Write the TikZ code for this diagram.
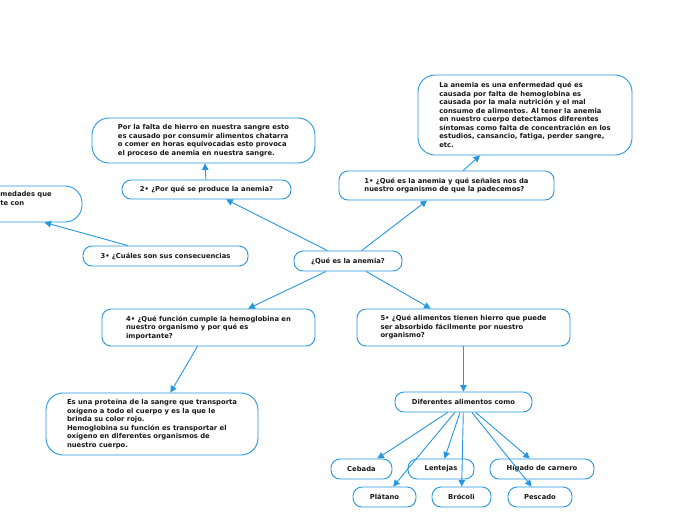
\documentclass[tikz,border=0pt]{standalone}
\usepackage{fontspec}
\setmainfont{DejaVu Sans}
\usetikzlibrary{arrows.meta}
\definecolor{mapblue}{RGB}{38, 150, 222}
\definecolor{ink}{RGB}{25, 25, 25}
\tikzset{%
    topic/.style={%
        draw=mapblue, line width=0.9pt, rounded corners=9pt, fill=white,
        text=ink, align=left, inner sep=0pt,
        font=\fontsize{6.8}{8.5}\selectfont\bfseries
    },
    bigtopic/.style={topic, rounded corners=17pt},
    link/.style={%
        draw=mapblue, line width=0.9pt,
        -{Triangle[length=6.5pt, width=6.5pt]}
    }
}

\begin{document}
\begin{tikzpicture}[x=1pt, y=-1pt]

    \useasboundingbox (0, 0) rectangle (696, 520);

    % Main topic
    \node[topic, minimum width=108, minimum height=20] (anemia) at (348, 261)
        {¿Qué es la anemia?};

    % Questions
    \node[topic, minimum width=169, minimum height=19] (why) at (206.5, 189.5)
        {2• ¿Por qué se produce la anemia?};
    \node[topic, minimum width=215, minimum height=29] (what) at (446.5, 185.5)
        {1• ¿Qué es la anemia y qué señales nos da\\
         nuestro organismo de que la padecemos?};
    \node[topic, minimum width=165, minimum height=20] (effects) at (165.5, 256)
        {3• ¿Cuáles son sus consecuencias};
    \node[topic, minimum width=213, minimum height=37] (role) at (208.5, 327.5)
        {4• ¿Qué función cumple la hemoglobina en\\
         nuestro organismo y por qué es\\
         importante?};
    \node[topic, minimum width=213, minimum height=37] (food) at (463.5, 327.5)
        {5• ¿Qué alimentos tienen hierro que puede\\
         ser absorbido fácilmente por nuestro\\
         organismo?};

    % Answers
    \node[bigtopic, minimum width=223, minimum height=45] (cause) at (203.5, 140.5)
        {Por la falta de hierro en nuestra sangre esto\\
         es causado por consumir alimentos chatarra\\
         o comer en horas equivocadas esto provoca\\
         el proceso de anemia en nuestra sangre.};
    \node[bigtopic, minimum width=214, minimum height=80] (define) at (525, 115)
        {La anemia es una enfermedad qué es\\
         causada por falta de hemoglobina es\\
         causada por la mala nutrición y el mal\\
         consumo de alimentos. Al tener la anemia\\
         en nuestro cuerpo detectamos diferentes\\
         síntomas como falta de concentración en los\\
         estudios, cansancio, fatiga, perder sangre,\\
         etc.};
    \node[bigtopic, minimum width=208, minimum height=36] (illness) at (-22, 204) {};
    \node[topic, draw=none, fill=none, anchor=north west] (illnesstext) at (0, 191)
        {medades que\\te con};
    \node[bigtopic, minimum width=212, minimum height=62] (protein) at (152, 424)
        {Es una proteína de la sangre que transporta\\
         oxígeno a todo el cuerpo y es la que le\\
         brinda su color rojo.\\
         Hemoglobina su función es transportar el\\
         oxígeno en diferentes organismos de\\
         nuestro cuerpo.};

    % Foods
    \node[topic, minimum width=137, minimum height=20] (list) at (463.5, 402)
        {Diferentes alimentos como};
    \node[topic, minimum width=61, minimum height=20] (barley) at (361.5, 469) {Cebada};
    \node[topic, minimum width=66, minimum height=20] (lentils) at (441, 469) {Lentejas};
    \node[topic, minimum width=104, minimum height=20] (liver) at (542, 469)
        {Hígado de carnero};
    \node[topic, minimum width=63, minimum height=20] (banana) at (384.5, 497) {Plátano};
    \node[topic, minimum width=59, minimum height=20] (broccoli) at (461.5, 497) {Brócoli};
    \node[topic, minimum width=64, minimum height=20] (fish) at (540, 497) {Pescado};

    % Connecting main topic to questions
    \draw[link] (anemia) -- (why);
    \draw[link] (anemia) -- (what);
    \draw[link] (anemia) -- (role);
    \draw[link] (anemia) -- (food);

    % Connecting questions to answers
    \draw[link] (why) -- (cause);
    \draw[link] (what) -- (define);
    \draw[link] (effects) -- (illness);
    \draw[link] (role) -- (protein);
    \draw[link] (food) -- (list);

    % Connecting list to foods
    \draw[link] (list) -- (barley);
    \draw[link] (list) -- (banana);
    \draw[link] (list) -- (lentils);
    \draw[link] (list) -- (broccoli);
    \draw[link] (list) -- (fish);
    \draw[link] (list) -- (liver);

\end{tikzpicture}
\end{document}
